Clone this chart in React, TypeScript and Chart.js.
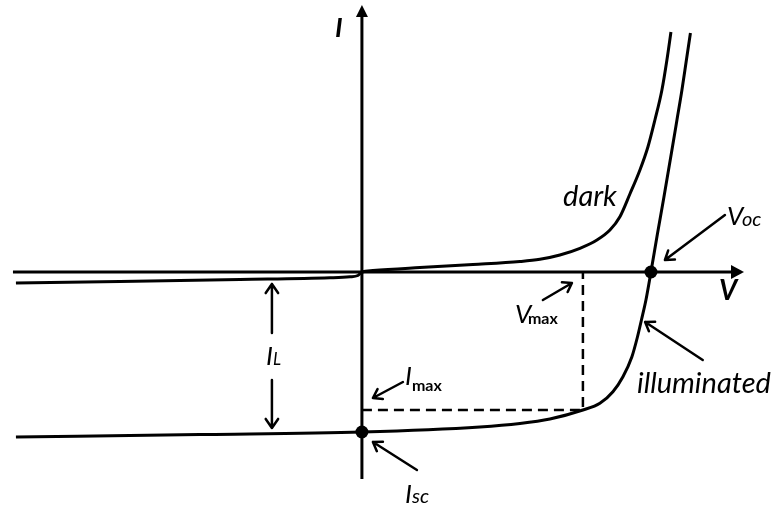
import React, { useEffect, useRef } from "react";
import { Chart, registerables } from "chart.js";

Chart.register(...registerables);

// Voltage (V) and current (mA) values
const darkV = [-0.7208, -0.5042, -0.2542, -0.0667, -0.025, -0.0083, 0, 0.0229, 0.1208, 0.2313, 0.3292, 0.3708, 0.4125, 0.4542, 0.4896, 0.5167, 0.5375, 0.5583, 0.5792, 0.5958, 0.6104, 0.625, 0.6354, 0.6438];
const darkI = [-0.22, -0.19, -0.15, -0.116, -0.096, -0.07, 0, 0.03, 0.09, 0.15, 0.21, 0.254, 0.34, 0.474, 0.64, 0.84, 1.106, 1.56, 2.04, 2.5, 3.04, 3.64, 4.24, 4.8];
const illumV = [-0.7208, -0.3375, 0, 0.2458, 0.3292, 0.3917, 0.4604, 0.4958, 0.5229, 0.5438, 0.5625, 0.574, 0.5823, 0.5917, 0.6021, 0.6156, 0.6292, 0.6448, 0.6563, 0.6667, 0.676, 0.6844];
const illumI = [-3.3, -3.25, -3.2, -3.1, -3.03, -2.94, -2.76, -2.626, -2.394, -2.094, -1.694, -1.3, -0.96, -0.56, 0, 0.76, 1.5, 2.38, 3.04, 3.64, 4.24, 4.78];

// Characteristic points
const VOC = 0.6021;
const ISC = -3.2;
const VMAX = 0.4604;
const IMAX = -2.76;

// Axis extents and the I_L marker position
const xAxisRange = [-0.727, 0.796];
const yAxisRange = [-4.14, 5.34];
const IL_V = -0.1875;
const IL_range = [-0.22, -3.14];

const toXY = (xs: number[], ys: number[]) => xs.map((x, i) => ({ x, y: ys[i] }));

function openArrow(ctx: CanvasRenderingContext2D, x1: number, y1: number, x2: number, y2: number, head = 10, width = 2.5) {
  const a = Math.atan2(y2 - y1, x2 - x1);
  const sp = 0.6;
  ctx.save();
  ctx.strokeStyle = "#000";
  ctx.lineWidth = width;
  ctx.lineCap = "round";
  ctx.lineJoin = "round";
  ctx.beginPath();
  ctx.moveTo(x1, y1);
  ctx.lineTo(x2, y2);
  ctx.moveTo(x2 - head * Math.cos(a - sp), y2 - head * Math.sin(a - sp));
  ctx.lineTo(x2, y2);
  ctx.lineTo(x2 - head * Math.cos(a + sp), y2 - head * Math.sin(a + sp));
  ctx.stroke();
  ctx.restore();
}

function text(ctx: CanvasRenderingContext2D, s: string, x: number, y: number, font: string) {
  ctx.save();
  ctx.font = font;
  ctx.fillStyle = "#000";
  ctx.textAlign = "left";
  ctx.textBaseline = "alphabetic";
  ctx.fillText(s, x, y);
  ctx.restore();
}

const FONT = "Lato";

const diagramPlugin = {
  id: "diagram",
  beforeDatasetsDraw(chart: any) {
    const { ctx, scales } = chart;
    const X = (v: number) => scales.x.getPixelForValue(v);
    const Y = (v: number) => scales.y.getPixelForValue(v);
    ctx.save();
    ctx.strokeStyle = "#000";
    ctx.fillStyle = "#000";
    ctx.lineWidth = 3;
    // x axis
    const y0 = Y(0);
    const xs = X(xAxisRange[0]);
    const xe = X(xAxisRange[1]);
    ctx.beginPath();
    ctx.moveTo(xs, y0);
    ctx.lineTo(xe - 8, y0);
    ctx.stroke();
    ctx.beginPath();
    ctx.moveTo(xe, y0);
    ctx.lineTo(xe - 13, y0 - 7);
    ctx.lineTo(xe - 13, y0 + 7);
    ctx.closePath();
    ctx.fill();
    // y axis
    const x0 = X(0);
    const ys = Y(yAxisRange[0]);
    const ye = Y(yAxisRange[1]);
    ctx.beginPath();
    ctx.moveTo(x0, ys);
    ctx.lineTo(x0, ye + 8);
    ctx.stroke();
    ctx.beginPath();
    ctx.moveTo(x0, ye);
    ctx.lineTo(x0 - 6, ye + 12);
    ctx.lineTo(x0 + 6, ye + 12);
    ctx.closePath();
    ctx.fill();
    ctx.restore();
  },
  afterDatasetsDraw(chart: any) {
    const { ctx, scales } = chart;
    const X = (v: number) => scales.x.getPixelForValue(v);
    const Y = (v: number) => scales.y.getPixelForValue(v);
    const it = (size: number) => `italic ${size}px ${FONT}`;

    // axis labels
    text(ctx, "I", X(0) - 27, Y(yAxisRange[1]) + 32, `italic bold 27px ${FONT}`);
    text(ctx, "V", X(xAxisRange[1]) - 25, Y(0) + 28, `italic bold 28px ${FONT}`);

    // curve names
    text(ctx, "dark", X(0.419), Y(1.32), it(29));
    text(ctx, "illuminated", X(0.573), Y(-2.42), it(29));
    openArrow(ctx, X(0.71), Y(-1.76), X(0.59), Y(-1.0));

    // Voc
    const vx = X(VOC), vy = Y(0);
    openArrow(ctx, vx + 74, vy - 57, vx + 14, vy - 12);
    text(ctx, "V", vx + 76, vy - 47, it(26));
    text(ctx, "oc", vx + 91, vy - 46, it(20));

    // Isc
    const ix = X(0), iy = Y(ISC);
    openArrow(ctx, ix + 55, iy + 38, ix + 11, iy + 10);
    text(ctx, "I", ix + 43, iy + 71, it(26));
    text(ctx, "sc", ix + 50, iy + 71, it(20));

    // Vmax
    const mx = X(VMAX), my0 = Y(0);
    openArrow(ctx, mx - 40, my0 + 28, mx - 11, my0 + 11);
    text(ctx, "V", mx - 68, my0 + 51, it(26));
    text(ctx, "max", mx - 55, my0 + 52, `bold 16px ${FONT}`);

    // Imax
    const jx = X(0), jy = Y(IMAX);
    openArrow(ctx, jx + 41, jy - 28, jx + 11, jy - 12);
    text(ctx, "I", jx + 43, jy - 25, it(26));
    text(ctx, "max", jx + 50, jy - 19, `bold 16px ${FONT}`);

    // I_L double arrow
    const lx = X(IL_V);
    const lTop = Y(IL_range[0]);
    const lBot = Y(IL_range[1]);
    openArrow(ctx, lx, lTop + 50, lx, lTop + 1, 11);
    openArrow(ctx, lx, lBot - 49, lx, lBot - 1, 11);
    text(ctx, "I", lx - 6, lTop + 82, it(26));
    text(ctx, "L", lx + 1, lTop + 82, it(17));
  },
};

export default function App() {
  const ref = useRef<HTMLCanvasElement | null>(null);
  useEffect(() => {
    if (!ref.current) return;
    const chart = new Chart(ref.current, {
      type: "scatter",
      data: {
        datasets: [
          {
            label: "dark",
            data: toXY(darkV, darkI),
            showLine: true,
            borderColor: "#000",
            borderWidth: 3,
            pointRadius: 0,
            cubicInterpolationMode: "monotone",
          },
          {
            label: "illuminated",
            data: toXY(illumV, illumI),
            showLine: true,
            borderColor: "#000",
            borderWidth: 3,
            pointRadius: 0,
            cubicInterpolationMode: "monotone",
          },
          {
            label: "max power",
            data: [
              { x: 0, y: IMAX },
              { x: VMAX, y: IMAX },
              { x: VMAX, y: 0 },
            ],
            showLine: true,
            borderColor: "#000",
            borderWidth: 2.5,
            borderDash: [10, 6],
            pointRadius: 0,
          },
          {
            label: "points",
            data: [
              { x: 0, y: ISC },
              { x: VOC, y: 0 },
            ],
            showLine: false,
            pointRadius: 6.5,
            pointBackgroundColor: "#000",
            pointBorderColor: "#000",
            pointBorderWidth: 0,
          },
        ],
      },
      options: {
        animation: false,
        responsive: false,
        layout: { padding: 0, autoPadding: false },
        plugins: { legend: { display: false }, tooltip: { enabled: false } },
        scales: {
          x: { type: "linear", min: -0.754, max: 0.871, display: false },
          y: { type: "linear", min: -4.76, max: 5.44, display: false },
        },
      },
      plugins: [diagramPlugin],
    } as any);
    return () => chart.destroy();
  }, []);
  return (
    <div style={{ position: "absolute", left: 0, top: 0, width: 780, height: 510, background: "#fff" }}>
      <canvas ref={ref} width={780} height={510} />
    </div>
  );
}
